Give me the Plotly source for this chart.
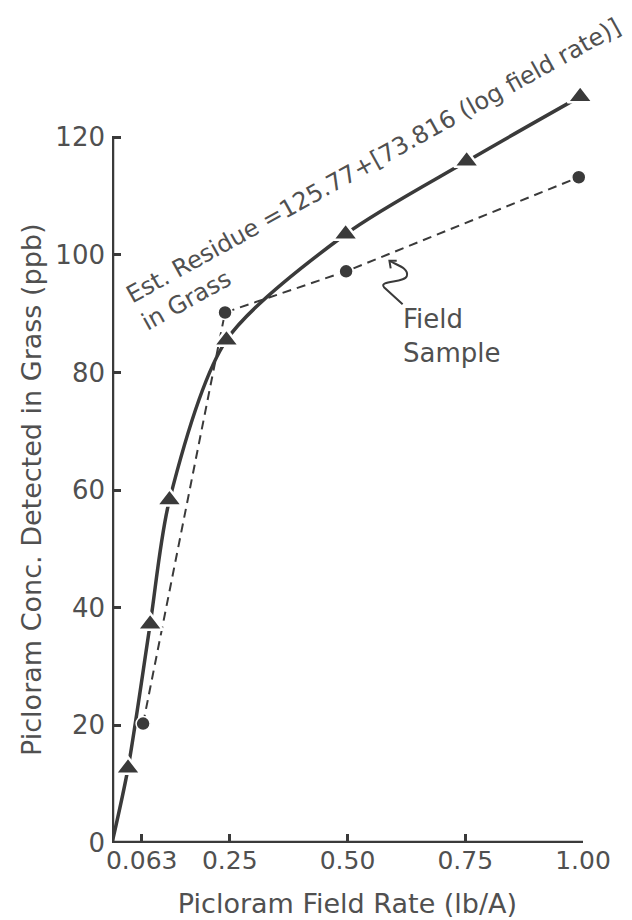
import plotly.graph_objects as go

# Estimated residue curve (triangles)
est_rate = [0.034, 0.081, 0.122, 0.243, 0.496, 0.753, 0.994]
est_residue = [12.7, 37.2, 58.3, 85.5, 103.5, 115.9, 126.9]
# Field samples (dots)
field_rate = [0.066, 0.240, 0.497, 0.991]
field_residue = [20.3, 90.2, 97.2, 113.2]

x_tickvals = [0.063, 0.25, 0.50, 0.75, 1.00]
x_ticktext = ["0.063", "0.25", "0.50", "0.75", "1.00"]
y_tickvals = [0, 20, 40, 60, 80, 100, 120]
y_ticktext = ["0", "20", "40", "60", "80", "100", "120"]

INK = "#3a3a3a"
TXT = "#505050"
FONT = "DejaVu Sans"

fig = go.Figure()

# solid fitted curve starting at origin
fig.add_trace(go.Scatter(
    x=[0] + est_rate, y=[0] + est_residue, mode="lines",
    line=dict(color=INK, width=3.5, shape="spline", smoothing=0.8),
    hoverinfo="skip", showlegend=False, cliponaxis=False))

# dashed field-sample line
fig.add_trace(go.Scatter(
    x=field_rate, y=field_residue, mode="lines+markers",
    line=dict(color=INK, width=2, dash="9px,6px"),
    marker=dict(symbol="circle", size=14, color=INK,
                line=dict(color="white", width=1.5)),
    showlegend=False, cliponaxis=False))

# triangle markers
fig.add_trace(go.Scatter(
    x=est_rate, y=est_residue, mode="markers",
    marker=dict(symbol="triangle-up", size=22, color=INK,
                line=dict(color="white", width=2.5)),
    showlegend=False, cliponaxis=False))

shapes = [
    # axis lines
    dict(type="line", xref="x", yref="y", x0=0, x1=1.0, y0=0, y1=0,
         line=dict(color=INK, width=4.5)),
    dict(type="line", xref="x", yref="y", x0=0, x1=0, y0=0, y1=120,
         line=dict(color=INK, width=4.5)),
    # squiggly arrow from "Field Sample" label to the dashed line
    dict(type="path", xref="x", yref="y",
         path="M0.617,91.6 L0.5775,94.5 C0.565,95.7 0.622,95.2 0.626,96.4 "
              "C0.631,97.8 0.603,98.3 0.589,99.0",
         line=dict(color=INK, width=2)),
    dict(type="path", xref="x", yref="y",
         path="M0.6045,99.0 L0.589,99.0 L0.5917,97.7",
         line=dict(color=INK, width=2)),
]

annotations = [
    dict(x=0.571, y=113.6, xref="x", yref="y",
         text="Est. Residue =125.77+[73.816 (log field rate)]<br>in Grass",
         showarrow=False, textangle=-29, align="left",
         xanchor="center", yanchor="middle",
         font=dict(family=FONT, size=24, color=TXT)),
    dict(x=0.614, y=86.2, xref="x", yref="y",
         text="Field<br>Sample", showarrow=False, align="left",
         xanchor="left", yanchor="middle",
         font=dict(family=FONT, size=26, color=TXT)),
    # y-axis title, centred on the 0-120 span of the axis
    dict(x=-0.170, y=0.4446, xref="paper", yref="paper",
         text="Picloram Conc. Detected in Grass (ppb)",
         showarrow=False, textangle=-90,
         xanchor="center", yanchor="middle",
         font=dict(family=FONT, size=27, color=TXT)),
]

fig.update_layout(
    width=632, height=920,
    margin=dict(l=112, r=49, t=49, b=77, autoexpand=False),
    paper_bgcolor="white", plot_bgcolor="white",
    font=dict(family=FONT, size=27, color=TXT),
    shapes=shapes, annotations=annotations,
    xaxis=dict(range=[0, 1.0], showline=False, showgrid=False, zeroline=False,
               tickvals=x_tickvals, ticktext=x_ticktext,
               ticks="inside", ticklen=9, tickwidth=3, tickcolor=INK,
               tickfont=dict(size=25, color=TXT),
               title=dict(text="Picloram Field Rate (lb/A)",
                          font=dict(size=27, color=TXT), standoff=20),
               automargin=False),
    yaxis=dict(range=[0, 135], showline=False, showgrid=False, zeroline=False,
               tickvals=y_tickvals, ticktext=y_ticktext,
               ticks="inside", ticklen=9, tickwidth=3, tickcolor=INK,
               tickfont=dict(size=26, color=TXT), ticklabelstandoff=6,
               automargin=False),
)

fig.write_html("out.html")
